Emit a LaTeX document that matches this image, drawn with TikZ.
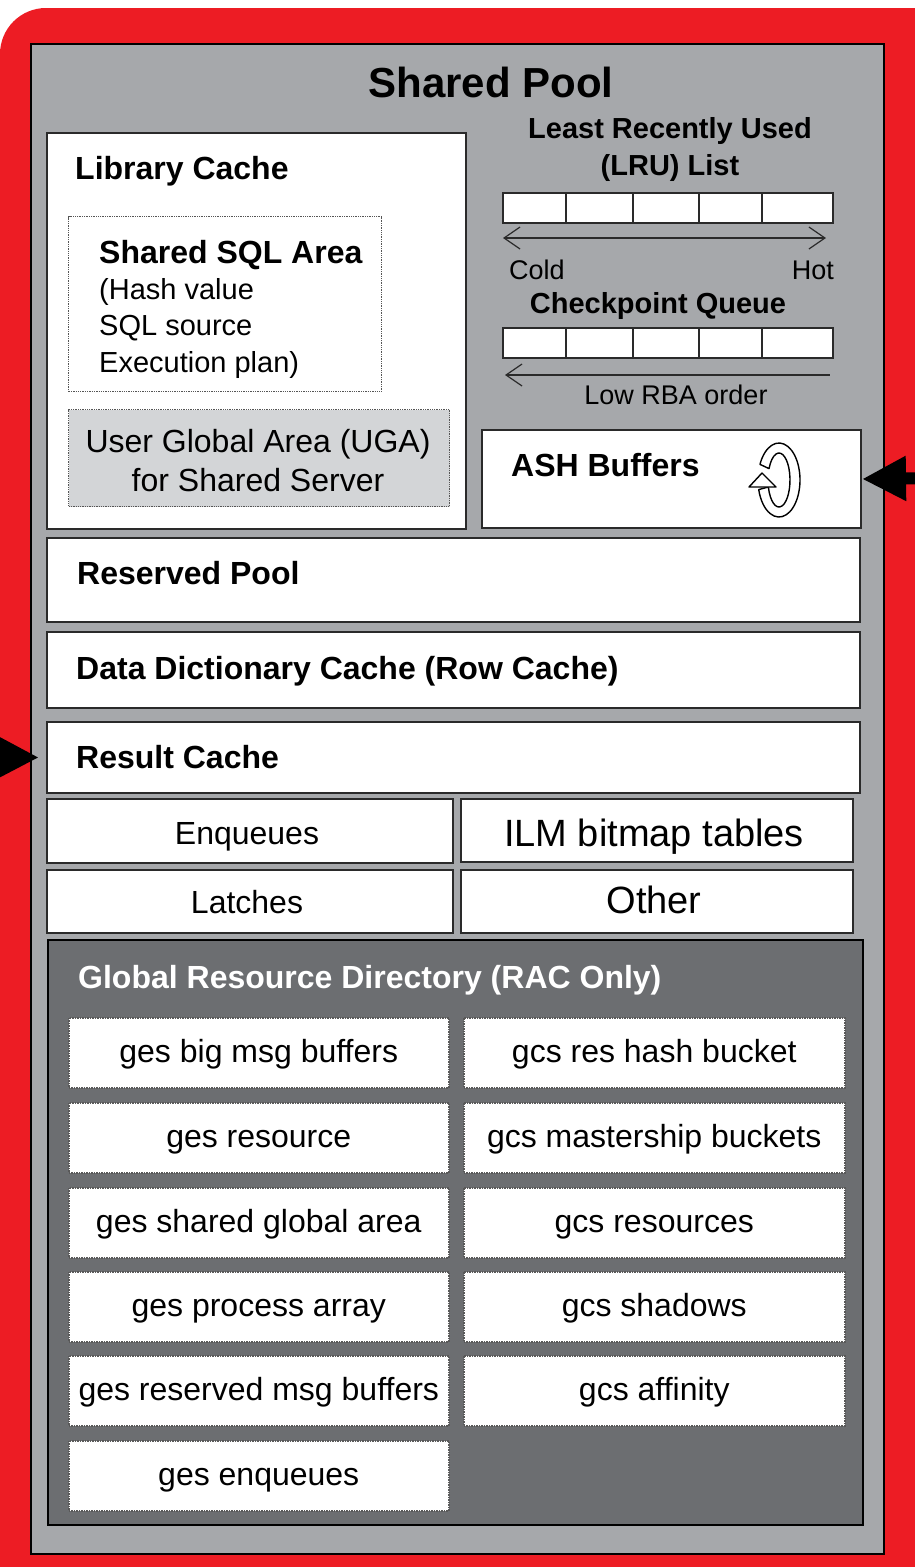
\documentclass[tikz,border=0pt]{standalone}
\usepackage{fontspec}
\setmainfont{Liberation Sans}
\usetikzlibrary{arrows.meta}
\definecolor{redc}{HTML}{ED1C24}
\definecolor{poolgray}{HTML}{A6A8AB}
\definecolor{grddark}{HTML}{6C6E71}
\definecolor{ugagray}{HTML}{D3D5D7}
\definecolor{edgec}{HTML}{2A2A2A}
\newcommand\fsz[1]{\fontsize{#1}{#1}\selectfont}
\begin{document}
\begin{tikzpicture}[x=1pt,y=-1pt,
  box/.style={draw=edgec, line width=2pt, fill=white, anchor=north west, inner sep=0pt},
  dotbox/.style={draw=edgec!80, densely dotted, line width=1.3pt, fill=white, anchor=north west, inner sep=0pt},
  grdbox/.style={draw=gray!70!black, densely dotted, line width=1.5pt, fill=white, anchor=north west, inner sep=0pt,
     minimum height=70pt, font=\fsz{32}, text height=23pt, text depth=4pt},
  bold32/.style={font=\bfseries\fsz{32}, text height=23pt, text depth=0pt, inner sep=0pt},
  bold29/.style={font=\bfseries\fsz{29}, text height=21pt, text depth=0pt, inner sep=0pt},
  reg29/.style={font=\fsz{29}, text height=21pt, text depth=0pt, inner sep=0pt},
  reg27/.style={font=\fsz{27}, text height=19.5pt, text depth=0pt, inner sep=0pt},
  reg32/.style={font=\fsz{32}, text height=23pt, text depth=0pt, inner sep=0pt},
  reg38/.style={font=\fsz{38}, text height=27pt, text depth=0pt, inner sep=0pt},
  bigarrow/.style={line width=12pt, -{Triangle[length=44pt, width=42pt]}},
  thinarrow/.style={line width=1.2pt, draw=edgec},
  cell/.style={line width=2pt, draw=edgec}
]
\useasboundingbox (0,0) rectangle (914,1567);
\fill[white] (0,0) rectangle (914,1567);
\fill[redc, rounded corners=46pt] (0,8) rectangle (1000,1700);

% Shared pool
\node[draw=black, line width=2pt, fill=poolgray, anchor=north west, inner sep=0pt,
      minimum width=853pt, minimum height=1510pt] (pool) at (30,43) {};
\node[font=\bfseries\fsz{42}, text height=30pt, text depth=0pt, inner sep=0pt] (title) at (491,82) {Shared Pool};

% Library cache
\node[box, minimum width=419pt, minimum height=396pt] (lib) at (46,132) {};
\node[bold32, anchor=west] (libt) at (75,168) {Library Cache};
\node[dotbox, minimum width=313pt, minimum height=175pt] (sql) at (68,216) {};
\node[bold32, anchor=west] (sqlt) at (99,252) {Shared SQL Area};
\node[reg29, anchor=west] (sql1) at (99,289) {(Hash value};
\node[reg29, anchor=west] (sql2) at (99,325) {SQL source};
\node[reg29, anchor=west] (sql3) at (99,362) {Execution plan)};
\node[dotbox, fill=ugagray, minimum width=381pt, minimum height=97pt] (uga) at (68,409) {};
\node[reg32] (uga1) at (258,441) {User Global Area (UGA)};
\node[reg32] (uga2) at (258,480) {for Shared Server};

% LRU list
\node[bold29] (lrut1) at (670,128) {Least Recently Used};
\node[bold29] (lrut2) at (670,165) {(LRU) List};
\node[box, minimum width=330pt, minimum height=30pt] (lru) at (502,192) {};
\foreach \d in {64,131,197,260}
  \draw[cell] ([xshift=\d pt]lru.north west) -- ([xshift=\d pt]lru.south west);
\coordinate (lruL) at (503,238);
\coordinate (lruR) at (826,238);
\draw[thinarrow, {Straight Barb[length=16pt, width=22pt]}-{Straight Barb[length=16pt, width=22pt]}] (lruL) -- (lruR);
\node[reg27, anchor=west] (cold) at (509,270) {Cold};
\node[reg27, anchor=east] (hot) at (834,270) {Hot};

% Checkpoint queue
\node[bold29] (cqt) at (658,303) {Checkpoint Queue};
\node[box, minimum width=330pt, minimum height=30pt] (cq) at (502,327) {};
\foreach \d in {64,131,197,260}
  \draw[cell] ([xshift=\d pt]cq.north west) -- ([xshift=\d pt]cq.south west);
\coordinate (cqL) at (505,375);
\coordinate (cqR) at (830,375);
\draw[thinarrow, {Straight Barb[length=16pt, width=22pt]}-] (cqL) -- (cqR);
\node[reg27] (rba) at (676,395) {Low RBA order};

% ASH buffers
\node[box, minimum width=379pt, minimum height=98pt] (ash) at (481,429) {};
\node[bold32, anchor=west] (asht) at (511,465) {ASH Buffers};
\draw[line width=1.4pt, fill=white, line join=round]
  ([shift={(205:21 and 37)}]779,480) arc[start angle=205, end angle=525, x radius=21, y radius=37]
  -- ([shift={(525:11 and 27)}]779,480) arc[start angle=525, end angle=205, x radius=11, y radius=27] -- cycle;
\draw[line width=1.4pt, fill=white, line join=round] (749,487) -- (776,487) -- (762,473) -- cycle;
\coordinate (ashin) at (940,478);
\draw[bigarrow] (ashin) -- (ash.east);

% Full-width boxes
\node[box, minimum width=813pt, minimum height=84pt] (res) at (46,537) {};
\node[bold32, anchor=west] (rest) at (77,573) {Reserved Pool};
\node[box, minimum width=813pt, minimum height=76pt] (dd) at (46,631) {};
\node[bold32, anchor=west] (ddt) at (76,668) {Data Dictionary Cache (Row Cache)};
\node[box, minimum width=813pt, minimum height=71pt] (rc) at (46,721) {};
\node[bold32, anchor=west] (rct) at (76,757) {Result Cache};
\coordinate (rcin) at (-60,757);
\draw[bigarrow, shorten >=7pt] (rcin) -- (rc.west);

% Enqueues / ILM / Latches / Other
\node[box, minimum width=406pt, minimum height=64pt] (enq) at (46,798) {};
\node[reg32] (enqt) at (247,833) {Enqueues};
\node[box, minimum width=392pt, minimum height=63pt] (ilm) at (460,798) {};
\node[reg38] (ilmt) at (654,833) {ILM bitmap tables};
\node[box, minimum width=406pt, minimum height=63pt] (lat) at (46,869) {};
\node[reg32] (latt) at (247,902) {Latches};
\node[box, minimum width=392pt, minimum height=63pt] (oth) at (460,869) {};
\node[reg38] (otht) at (654,900) {Other};

% Global Resource Directory
\node[draw=black, line width=2pt, fill=grddark, anchor=north west, inner sep=0pt,
      minimum width=815pt, minimum height=585pt] (grd) at (47,939) {};
\node[bold32, text=white, anchor=west] (grdt) at (78,977) {Global Resource Directory (RAC Only)};

\foreach \i/\t/\txt in {1/1017/ges big msg buffers, 2/1102/ges resource, 3/1187/ges shared global area,
    4/1271/ges process array, 5/1355/ges reserved msg buffers, 6/1440/ges enqueues}
  \node[grdbox, minimum width=380pt] (gl\i) at (68,\t) {\txt};
\foreach \i/\t/\txt in {1/1017/gcs res hash bucket, 2/1102/gcs mastership buckets, 3/1187/gcs resources,
    4/1271/gcs shadows, 5/1355/gcs affinity}
  \node[grdbox, minimum width=381pt] (gr\i) at (463,\t) {\txt};
\end{tikzpicture}
\end{document}
